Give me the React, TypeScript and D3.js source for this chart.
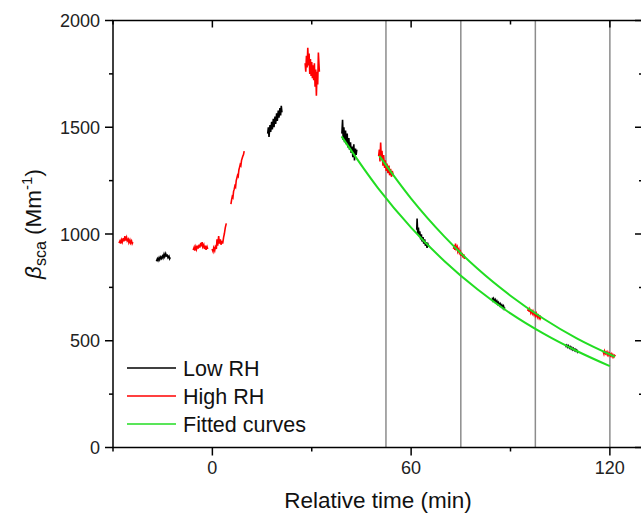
import React from 'react';
import * as d3 from 'd3';

type Pt = [number, number];

// measured segments, [relative time (min), beta_sca (Mm-1)]
const lowRH: Pt[][] = [
  [[-16.9, 872], [-16.6, 884], [-16.4, 876], [-16.1, 889], [-15.9, 880], [-15.6, 892], [-15.4, 885], [-15.1, 896], [-14.9, 888], [-14.6, 905], [-14.4, 894], [-14.1, 908], [-13.9, 897], [-13.6, 900], [-13.4, 889], [-13.1, 896], [-12.9, 884], [-12.7, 890]],
  [[16.7, 1470], [16.9, 1500], [17.1, 1455], [17.4, 1510], [17.6, 1478], [17.9, 1525], [18.1, 1490], [18.4, 1540], [18.6, 1500], [18.9, 1550], [19.1, 1515], [19.4, 1565], [19.6, 1530], [19.9, 1578], [20.1, 1545], [20.4, 1590], [20.6, 1555], [20.8, 1600], [21.0, 1570]],
  [[39.1, 1470], [39.3, 1535], [39.5, 1440], [39.7, 1500], [39.9, 1430], [40.2, 1485], [40.4, 1420], [40.7, 1470], [40.9, 1405], [41.2, 1450], [41.4, 1395], [41.7, 1430], [41.9, 1380], [42.2, 1410], [42.4, 1360], [42.7, 1420], [42.9, 1345], [43.2, 1400], [43.4, 1370], [43.6, 1395]],
  [[61.7, 1020], [61.8, 1072], [62.0, 1000], [62.2, 1030], [62.4, 990], [62.6, 1012], [62.9, 975], [63.1, 998], [63.3, 965], [63.6, 985], [63.8, 955], [64.1, 975], [64.3, 945], [64.6, 962], [64.8, 935], [65.1, 952], [65.4, 940]],
  [[84.5, 702], [84.7, 690], [84.9, 698], [85.2, 685], [85.4, 692], [85.7, 678], [85.9, 686], [86.2, 672], [86.4, 679], [86.7, 666], [86.9, 673], [87.2, 660], [87.4, 667], [87.7, 655], [87.9, 662], [88.1, 650], [88.3, 656]],
  [[106.6, 482], [106.8, 474], [107.0, 479], [107.3, 470], [107.5, 476], [107.8, 466], [108.0, 472], [108.3, 462], [108.5, 468], [108.8, 458], [109.0, 464], [109.3, 455], [109.5, 460], [109.8, 451], [110.0, 456], [110.3, 447], [110.5, 452]],
];

const highRH: Pt[][] = [
  [[-28.2, 958], [-27.9, 968], [-27.7, 955], [-27.4, 972], [-27.2, 962], [-26.9, 980], [-26.7, 966], [-26.4, 990], [-26.2, 970], [-25.9, 984], [-25.7, 968], [-25.4, 976], [-25.2, 960], [-24.9, 972], [-24.7, 958], [-24.4, 968], [-24.2, 955], [-24.0, 962]],
  [[-5.8, 925], [-5.5, 938], [-5.3, 922], [-5.0, 940], [-4.8, 928], [-4.5, 945], [-4.3, 932], [-4.0, 950], [-3.8, 936], [-3.5, 958], [-3.3, 942], [-3.1, 962], [-2.9, 940], [-2.6, 950], [-2.4, 930], [-2.1, 945], [-1.9, 926], [-1.6, 940], [-1.4, 930]],
  [[-0.1, 930], [0.2, 918], [0.4, 935], [0.7, 922], [0.9, 940], [1.2, 930], [1.4, 975], [1.6, 945], [1.9, 990], [2.1, 955], [2.4, 975], [2.6, 950], [2.9, 968], [3.1, 955], [3.4, 985], [3.6, 1000], [3.9, 1030], [4.2, 1050]],
  [[5.6, 1140], [5.8, 1160], [6.0, 1175], [6.2, 1170], [6.4, 1200], [6.6, 1210], [6.8, 1225], [7.0, 1220], [7.2, 1250], [7.4, 1262], [7.6, 1275], [7.8, 1270], [8.0, 1300], [8.2, 1312], [8.4, 1325], [8.6, 1320], [8.8, 1345], [9.0, 1355], [9.2, 1365], [9.4, 1372], [9.6, 1388]],
  [[28.0, 1800], [28.2, 1760], [28.4, 1835], [28.6, 1780], [28.8, 1872], [29.0, 1790], [29.2, 1845], [29.4, 1750], [29.6, 1820], [29.8, 1740], [30.0, 1805], [30.2, 1730], [30.4, 1790], [30.6, 1720], [30.8, 1800], [31.0, 1690], [31.2, 1770], [31.4, 1648], [31.6, 1760], [31.8, 1700], [32.0, 1850], [32.3, 1760]],
  [[50.2, 1365], [50.4, 1395], [50.6, 1340], [50.8, 1428], [51.0, 1350], [51.2, 1390], [51.5, 1320], [51.7, 1370], [52.0, 1310], [52.2, 1345], [52.5, 1295], [52.7, 1330], [53.0, 1285], [53.3, 1320], [53.5, 1275], [53.8, 1305], [54.1, 1268], [54.3, 1295], [54.6, 1275]],
  [[72.8, 930], [73.0, 948], [73.2, 925], [73.4, 955], [73.6, 930], [73.9, 940], [74.1, 918], [74.4, 930], [74.6, 910], [74.9, 918], [75.1, 898], [75.4, 912], [75.6, 890], [75.9, 905], [76.1, 884], [76.3, 895]],
  [[95.2, 640], [95.4, 652], [95.6, 636], [95.8, 648], [96.1, 632], [96.3, 645], [96.6, 628], [96.8, 638], [97.1, 622], [97.3, 635], [97.6, 618], [97.8, 628], [98.1, 612], [98.3, 625], [98.6, 608], [98.8, 620], [99.0, 605], [99.2, 612]],
  [[118.0, 448], [118.2, 438], [118.4, 452], [118.7, 440], [118.9, 446], [119.2, 434], [119.4, 445], [119.7, 432], [119.9, 440], [120.2, 430], [120.4, 438], [120.7, 426], [120.9, 435], [121.2, 424], [121.4, 432], [121.7, 428]],
];

const fitLow: Pt[] = [[39, 1457], [50, 1215], [60, 1030], [70, 874], [80, 741], [90, 628], [100, 533], [110, 452], [120, 381]];
const fitHigh: Pt[] = [[50.4, 1366], [60, 1166], [70, 989], [80, 838], [90, 711], [100, 603], [110, 511], [121.5, 425]];

const gridTimes = [52.4, 75, 97.5, 120];
const xMajor = [0, 60, 120];
const xMinor = [-30, 30, 90];
const yMajor = [0, 500, 1000, 1500, 2000];
const yMinor = [250, 750, 1250, 1750];

const legendItems = [
  { label: 'Low RH', color: '#000000' },
  { label: 'High RH', color: '#ff0000' },
  { label: 'Fitted curves', color: '#22dd22' },
];

const W = 641;
const H = 514;
const font = 'Arial, "Liberation Sans", sans-serif';

const App = () => {
  const x = d3.scaleLinear().domain([-30, 130]).range([113, 643]);
  const y = d3.scaleLinear().domain([0, 2000]).range([447.5, 20.5]);
  const line = d3.line<Pt>().x(d => x(d[0])).y(d => y(d[1]));
  const smooth = d3.line<Pt>().x(d => x(d[0])).y(d => y(d[1])).curve(d3.curveMonotoneX);

  const [x0, x1] = x.range();
  const [y0, y1] = y.range();

  return (
    <svg width={W} height={H} style={{ position: 'absolute', left: 0, top: 0, background: '#fff' }}>
      {/* vertical reference lines */}
      {gridTimes.map(t => (
        <line key={'g' + t} x1={x(t)} x2={x(t)} y1={y1} y2={y0} stroke="#8c8c8c" strokeWidth={1.5} />
      ))}

      {/* data */}
      {highRH.map((seg, i) => (
        <path key={'h' + i} d={line(seg) || ''} fill="none" stroke="#ff0000" strokeWidth={1.6} />
      ))}
      {lowRH.map((seg, i) => (
        <path key={'l' + i} d={line(seg) || ''} fill="none" stroke="#000" strokeWidth={1.6} />
      ))}
      <path d={smooth(fitLow) || ''} fill="none" stroke="#22dd22" strokeWidth={2} />
      <path d={smooth(fitHigh) || ''} fill="none" stroke="#22dd22" strokeWidth={2} />

      {/* frame */}
      <rect x={x0} y={y1} width={x1 - x0} height={y0 - y1} fill="none" stroke="#000" strokeWidth={1.5} />

      {/* left axis outward ticks, right axis inward */}
      {yMajor.map(v => (
        <g key={'ym' + v}>
          <line x1={x0 - 8} x2={x0} y1={y(v)} y2={y(v)} stroke="#000" strokeWidth={1.5} />
          <line x1={x1 - 8} x2={x1} y1={y(v)} y2={y(v)} stroke="#000" strokeWidth={1.5} />
          <text x={x0 - 13} y={y(v) + 6.5} textAnchor="end" fontSize={18} fontFamily={font} fill="#222">{v}</text>
        </g>
      ))}
      {yMinor.map(v => (
        <g key={'yn' + v}>
          <line x1={x0 - 4} x2={x0} y1={y(v)} y2={y(v)} stroke="#000" strokeWidth={1.5} />
          <line x1={x1 - 4} x2={x1} y1={y(v)} y2={y(v)} stroke="#000" strokeWidth={1.5} />
        </g>
      ))}

      {/* bottom axis outward ticks, top axis inward */}
      {xMajor.map(t => (
        <g key={'xm' + t}>
          <line x1={x(t)} x2={x(t)} y1={y0} y2={y0 + 8} stroke="#000" strokeWidth={1.5} />
          <line x1={x(t)} x2={x(t)} y1={y1} y2={y1 + 7} stroke="#000" strokeWidth={1.5} />
          <text x={x(t)} y={y0 + 26} textAnchor="middle" fontSize={18} fontFamily={font} fill="#222">{t}</text>
        </g>
      ))}
      {xMinor.map(t => (
        <g key={'xn' + t}>
          <line x1={x(t)} x2={x(t)} y1={y0} y2={y0 + 4} stroke="#000" strokeWidth={1.5} />
          <line x1={x(t)} x2={x(t)} y1={y1} y2={y1 + 4} stroke="#000" strokeWidth={1.5} />
        </g>
      ))}

      {/* axis titles */}
      <text x={378} y={508} textAnchor="middle" fontSize={22.5} fontFamily={font} fill="#111">
        Relative time (min)
      </text>
      <text transform={`translate(41,224) rotate(-90)`} textAnchor="middle" fontSize={22.5} fontFamily={font} fill="#111">
        <tspan fontStyle="italic">β</tspan>
        <tspan fontSize={16} dy={5}>sca</tspan>
        <tspan dy={-5}> (Mm</tspan>
        <tspan fontSize={15} dy={-9}>-1</tspan>
        <tspan dy={9}>)</tspan>
      </text>

      {/* legend */}
      {legendItems.map((it, i) => (
        <g key={it.label} transform={`translate(127,${368 + i * 28})`}>
          <line x1={0} x2={49} y1={0} y2={0} stroke={it.color} strokeWidth={1.4} />
          <text x={56} y={7.5} fontSize={21.5} fontFamily={font} fill="#111">{it.label}</text>
        </g>
      ))}
    </svg>
  );
};

export default App;
